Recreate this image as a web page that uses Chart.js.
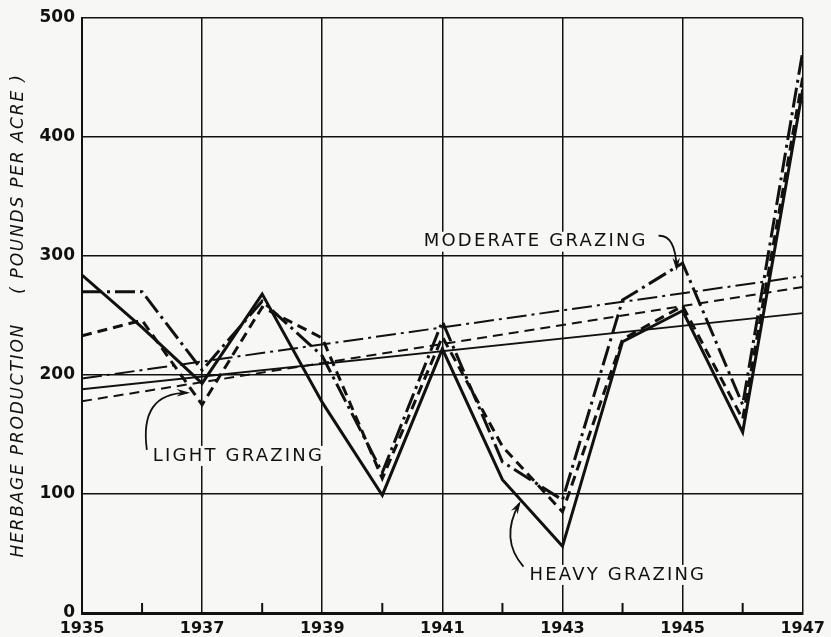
<!DOCTYPE html>
<html>
<head>
<meta charset="utf-8">
<script src="https://cdn.jsdelivr.net/npm/chart.js@4.4.1/dist/chart.umd.min.js"></script>
<style>
  html, body { margin: 0; padding: 0; background: #f7f7f5; }
  #wrap { width: 831px; height: 637px; position: relative; }
</style>
</head>
<body>
<div id="wrap"><canvas id="chart"></canvas></div>
<script>
// Herbage production by year, 1935-1947 (pounds per acre)
const years = [1935, 1936, 1937, 1938, 1939, 1940, 1941, 1942, 1943, 1944, 1945, 1946, 1947];
const heavyGrazing    = [284, 240, 193, 268, 177,  99, 222, 112,  56, 228, 254, 152, 440];
const moderateGrazing = [270, 270, 204, 262, 216, 118, 245, 127,  95, 263, 294, 175, 472];
const lightGrazing    = [233, 246, 175, 257, 231, 113, 232, 140,  85, 230, 258, 163, 450];

// trend lines (start 1935, end 1947)
const trendYears    = [1935, 1947];
const heavyTrend    = [188, 252];
const moderateTrend = [197, 283];
const lightTrend    = [178, 274];

const yTicks = [0, 100, 200, 300, 400, 500];
const yTitle = "HERBAGE PRODUCTION    ( POUNDS PER ACRE )";

// label text, anchor positions given in data units
const seriesLabels = [
    { text: "MODERATE GRAZING", x: 1940.69, y: 312 },
    { text: "LIGHT GRAZING",    x: 1936.18, y: 132 },
    { text: "HEAVY GRAZING",    x: 1942.45, y: 32 }
];
// arrows: tail, control, tip (data units)
const arrows = [
    { from: [1944.6, 317], ctrl: [1944.88, 318], to: [1944.9, 290] },
    { from: [1936.08, 137], ctrl: [1935.95, 185], to: [1936.75, 185] },
    { from: [1942.35, 39],  ctrl: [1941.95, 62],  to: [1942.28, 92] }
];

const MOD_DASH = [20, 5, 3, 5];
const LIGHT_DASH = [10, 6];

function pts(xs, ys) {
    return xs.map((x, i) => ({ x: x, y: ys[i] }));
}

function lineSet(label, data, dash, width) {
    return {
        label: label,
        data: data,
        borderColor: "#111",
        borderWidth: width,
        borderDash: dash,
        pointRadius: 0,
        fill: false,
        tension: 0
    };
}

const annotationsPlugin = {
    id: "grazingAnnotations",
    afterDatasetsDraw(chart) {
        const ctx = chart.ctx;
        const xs = chart.scales.x, ys = chart.scales.y;
        const px = (p) => [xs.getPixelForValue(p[0]), ys.getPixelForValue(p[1])];

        // small inner ticks at even years
        ctx.save();
        ctx.strokeStyle = "#111";
        ctx.lineWidth = 2;
        const bottom = ys.getPixelForValue(0);
        years.forEach(yr => {
            if ((yr - 1935) % 2 === 1) {
                const x = xs.getPixelForValue(yr);
                ctx.beginPath();
                ctx.moveTo(x, bottom);
                ctx.lineTo(x, bottom - 10);
                ctx.stroke();
            }
        });
        ctx.restore();

        // y axis title, drawn by hand for the wide letter spacing
        ctx.save();
        ctx.fillStyle = "#111";
        ctx.font = "italic 17px 'DejaVu Sans'";
        ctx.letterSpacing = "1.8px";
        ctx.textAlign = "center";
        ctx.textBaseline = "middle";
        ctx.translate(19, (chart.chartArea.top + chart.chartArea.bottom) / 2);
        ctx.rotate(-Math.PI / 2);
        ctx.fillText(yTitle, 0, 0);
        ctx.restore();

        // labels
        ctx.save();
        ctx.fillStyle = "#111";
        ctx.font = "18px 'DejaVu Sans'";
        ctx.letterSpacing = "2.2px";
        ctx.textBaseline = "middle";
        ctx.textAlign = "left";
        seriesLabels.forEach(l => {
            const x = xs.getPixelForValue(l.x), y = ys.getPixelForValue(l.y);
            const w = ctx.measureText(l.text).width;
            ctx.fillStyle = "#f7f7f5";
            ctx.fillRect(x - 3, y - 10, w + 4, 20);
            ctx.fillStyle = "#111";
            ctx.fillText(l.text, x, y);
        });
        ctx.restore();

        // arrows
        ctx.save();
        ctx.strokeStyle = "#111";
        ctx.fillStyle = "#111";
        ctx.lineWidth = 1.8;
        arrows.forEach(a => {
            const f = px(a.from), c = px(a.ctrl), t = px(a.to);
            ctx.beginPath();
            ctx.moveTo(f[0], f[1]);
            ctx.quadraticCurveTo(c[0], c[1], t[0], t[1]);
            ctx.stroke();
            const ang = Math.atan2(t[1] - c[1], t[0] - c[0]);
            const len = 11, half = 0.35;
            ctx.beginPath();
            ctx.moveTo(t[0] + Math.cos(ang) * 3, t[1] + Math.sin(ang) * 3);
            ctx.lineTo(t[0] - Math.cos(ang - half) * len, t[1] - Math.sin(ang - half) * len);
            ctx.lineTo(t[0] - Math.cos(ang) * 6, t[1] - Math.sin(ang) * 6);
            ctx.lineTo(t[0] - Math.cos(ang + half) * len, t[1] - Math.sin(ang + half) * len);
            ctx.closePath();
            ctx.fill();
        });
        ctx.restore();
    }
};

document.addEventListener("DOMContentLoaded", function() {
    const canvas = document.getElementById("chart");
    canvas.width = 831;
    canvas.height = 637;

    new Chart(canvas, {
        type: "line",
        data: {
            datasets: [
                lineSet("Heavy grazing", pts(years, heavyGrazing), [], 3),
                lineSet("Moderate grazing", pts(years, moderateGrazing), MOD_DASH, 3),
                lineSet("Light grazing", pts(years, lightGrazing), LIGHT_DASH, 3),
                lineSet("Heavy trend", pts(trendYears, heavyTrend), [], 2),
                lineSet("Moderate trend", pts(trendYears, moderateTrend), MOD_DASH, 2),
                lineSet("Light trend", pts(trendYears, lightTrend), LIGHT_DASH, 2)
            ]
        },
        options: {
            responsive: false,
            animation: false,
            layout: { padding: { top: 18, right: 25, left: 0, bottom: 0 } },
            plugins: {
                legend: { display: false },
                tooltip: { enabled: false }
            },
            scales: {
                x: {
                    type: "linear",
                    min: 1935,
                    max: 1947,
                    afterBuildTicks: (scale) => {
                        scale.ticks = years.map(v => ({ value: v }));
                    },
                    afterFit: (scale) => { scale.height = 24; },
                    grid: {
                        drawTicks: false,
                        lineWidth: 1.5,
                        color: (c) => (c.tick && (c.tick.value - 1935) % 2 === 0) ? "#111" : "rgba(0,0,0,0)"
                    },
                    border: { display: true, color: "#111", width: 3 },
                    ticks: {
                        autoSkip: false,
                        maxRotation: 0,
                        padding: 6,
                        color: "#111",
                        font: { family: "'DejaVu Sans'", size: 16, weight: "bold" },
                        callback: (v) => ((v - 1935) % 2 === 0 ? String(v) : "")
                    }
                },
                y: {
                    min: 0,
                    max: 500,
                    afterBuildTicks: (scale) => {
                        scale.ticks = yTicks.map(v => ({ value: v }));
                    },
                    afterFit: (scale) => { scale.width = 82; },
                    grid: { drawTicks: false, lineWidth: 1.5, color: "#111" },
                    border: { display: true, color: "#111", width: 2 },
                    ticks: {
                        padding: 7,
                        color: "#111",
                        font: { family: "'DejaVu Sans'", size: 17, weight: "bold" }
                    }
                }
            }
        },
        plugins: [annotationsPlugin]
    });
});
</script>
</body>
</html>
